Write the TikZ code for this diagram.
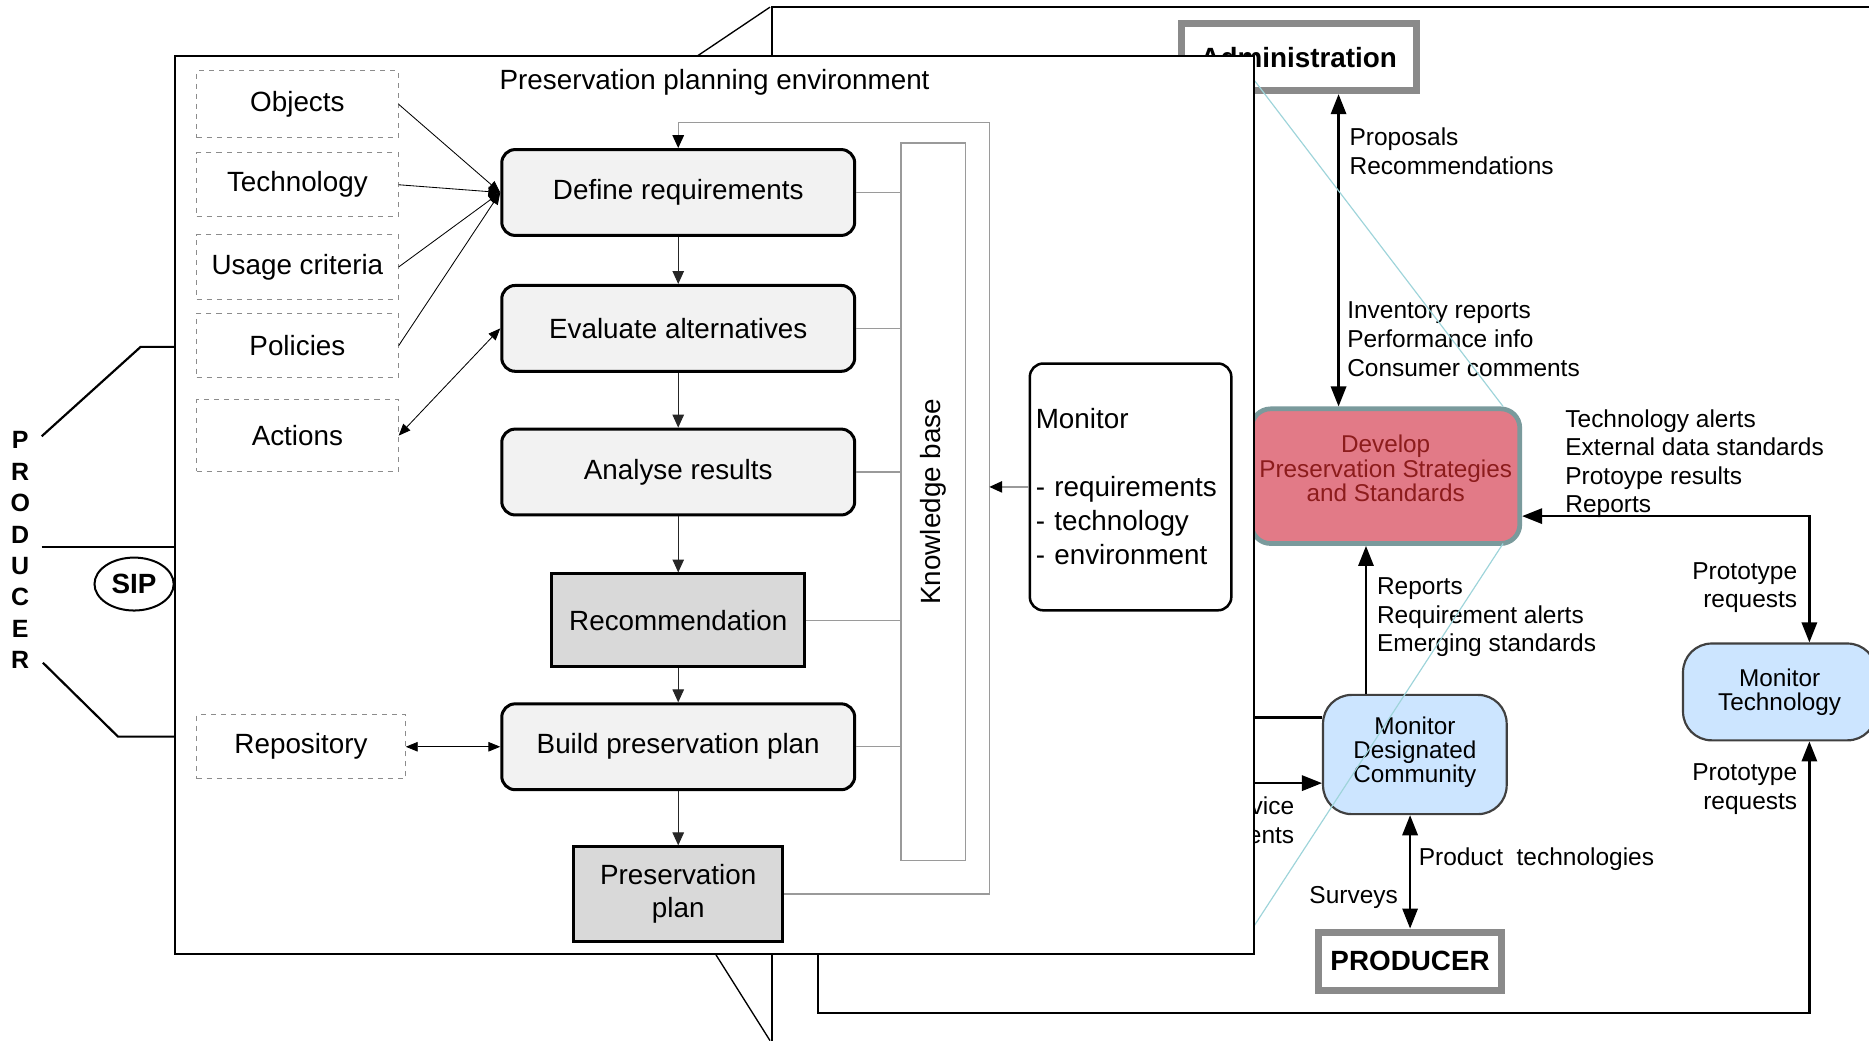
\documentclass[tikz,border=0pt]{standalone}
\usepackage{fontspec}
\setmainfont{Liberation Sans}
\usetikzlibrary{arrows.meta, positioning, shapes.geometric}
\definecolor{cframe}{HTML}{8A8A8A}
\definecolor{cpink}{HTML}{E27A87}
\definecolor{cpinkline}{HTML}{7A9A9C}
\definecolor{cpinktext}{HTML}{8C1C1C}
\definecolor{clblue}{HTML}{CCE5FF}
\definecolor{ccyan}{HTML}{9ED4DA}
\definecolor{cstep}{HTML}{F2F2F2}
\definecolor{cresult}{HTML}{D9D9D9}
\definecolor{cgrey}{HTML}{9A9A9A}
\definecolor{cdash}{HTML}{8C8C8C}
\tikzset{
  every picture/.style={x=0.025cm, y=-0.025cm},
  bigtext/.style={font=\fontsize{16.6}{20}\selectfont},
  smalltext/.style={font=\fontsize{14.6}{17.1}\selectfont},
  stepbox/.style={draw, fill=cstep, rounded corners=8pt, line width=1.8pt, minimum width=7.4cm, minimum height=1.8cm, bigtext},
  resultbox/.style={draw, fill=cresult, line width=1.8pt, align=center, bigtext},
  inbox/.style={draw=cdash, dashed, line width=0.6pt, minimum width=4.225cm, minimum height=1.35cm, bigtext},
  kbline/.style={draw=cgrey, line width=0.8pt},
  flow/.style={-{Triangle[length=0.27cm, width=0.24cm]}, draw=black!85, line width=0.6pt},
  feed/.style={kbline, -{Triangle[length=0.27cm, width=0.24cm, color=black]}},
  inarrow/.style={-{Triangle[length=0.25cm, width=0.2cm]}, line width=0.5pt},
  inboth/.style={{Triangle[length=0.25cm, width=0.2cm]}-{Triangle[length=0.25cm, width=0.2cm]}, line width=0.5pt},
  entitybox/.style={draw=cframe, line width=4.2pt, fill=white, font=\fontsize{16.6}{20}\selectfont\bfseries},
  bubble/.style={draw=black!75, fill=clblue, rounded corners=0.6cm, line width=1.3pt, align=center, font=\fontsize{14.5}{14.2}\selectfont},
  bigarrow/.style={-{Triangle[length=0.42cm, width=0.32cm]}, line width=1.4pt},
  bigboth/.style={{Triangle[length=0.42cm, width=0.32cm]}-{Triangle[length=0.42cm, width=0.32cm]}, line width=1.4pt},
  lab/.style={smalltext, align=left, inner sep=0pt},
  zoomline/.style={draw=ccyan, line width=0.7pt},
  oais/.style={line width=1.3pt},
}
\begin{document}
\begin{tikzpicture}
  \useasboundingbox (0,0) rectangle (1568,873);
  % functional entity behind
  \draw[line width=1.2pt] (1568,6) -- (648,6) -- (648,873);
  \draw[line width=0.8pt] (585,47) -- (646,6);
  \draw[line width=0.8pt] (600,800) -- (646,873);
  \node[entitybox, minimum width=4.925cm, minimum height=1.4cm] (admin) at (1089.5,48) {Administration};
  \node[draw=cpinkline, fill=cpink, text=cpinktext, line width=2.8pt, rounded corners=0.4cm, minimum width=5.625cm, minimum height=2.825cm, align=center, inner xsep=1pt, font=\fontsize{14.5}{14.4}\selectfont] (dev) at (1162.5,399.5) {Develop\\Preservation Strategies\\and Standards\\[-5pt]\mbox{}};
  \node[bubble, minimum width=3.85cm, minimum height=2.5cm] (mdc) at (1187,633) {Monitor\\Designated\\Community\\[-8.5pt]\mbox{}};
  \node[bubble, minimum width=4.05cm, minimum height=2.03cm] (mtech) at (1493,580.5) {Monitor\\Technology};
  \node[entitybox, minimum width=3.85cm, minimum height=1.225cm] (prod) at (1183,806.5) {PRODUCER};
  \coordinate (foot) at (686,790);
  \coordinate (inA) at (1040,602);
  \coordinate (inB) at (1040,657);
  \draw[bigboth] (1123,0 |- admin.south) -- (1123,0 |- dev.north);
  \draw[bigarrow] (1146,0 |- mdc.north) -- (1146,0 |- dev.south);
  \draw[bigboth] (dev.east |- 0,433) -- (1518,433) -- (1518,0 |- mtech.north);
  \draw[bigboth] (1183,0 |- mdc.south) -- (1183,0 |- prod.north);
  \draw[bigarrow] (foot) -- (686,850) -| (1518,0 |- mtech.south);
  \draw[line width=1.4pt] (inA) -- (mdc.west |- inA);
  \draw[bigarrow] (inB) -- (mdc.west |- inB);
  \node[lab, anchor=west] (proplab) at (1132,127) {Proposals\\Recommendations};
  \node[lab, anchor=west] (invlab) at (1130,284.5) {Inventory reports\\Performance info\\Consumer comments};
  \node[lab, anchor=west] (alertlab) at (1313,389) {Technology alerts\\External data standards\\Protoype results\\Reports};
  \node[lab, anchor=east, align=right] (protolab) at (1508,493) {Prototype\\requests};
  \node[lab, anchor=east, align=right] (protolabb) at (1508,662) {Prototype\\requests};
  \node[lab, anchor=west] (replab) at (1155,518) {Reports\\Requirement alerts\\Emerging standards};
  \node[lab, anchor=west] (techlab) at (1190,720.5) {Product\ \ technologies};
  \node[lab, anchor=east] (surveylab) at (1173,753) {Surveys};
  \node[lab, anchor=east, align=right] (reqlab) at (1086,688) {vice\\ents};
  \coordinate (zt) at (1052,67);
  \coordinate (dt) at (1261,341);
  \coordinate (db) at (1261,456);
  \coordinate (zb) at (1052,777);
  \draw[zoomline] (zt) -- (dt);
  \draw[zoomline] (db) -- (zb);
  % planning environment in front
  \node[draw, fill=white, line width=1.2pt, minimum width=22.625cm, minimum height=18.825cm] (env) at (599.5,423.5) {};
  \node[bigtext] (envtitle) at (599.5,69) {Preservation planning environment};
  \node[inbox, minimum height=1.4cm] (obj) at (249.5,87.5) {Objects};
  \node[inbox] (tech) at (249.5,155) {Technology};
  \node[inbox] (usage) at (249.5,224) {Usage criteria};
  \node[inbox] (pol) at (249.5,290) {Policies};
  \node[inbox, minimum height=1.5cm] (act) at (249.5,365.5) {Actions};
  \node[inbox, minimum width=4.375cm] (repo) at (252.5,626.5) {Repository};
  \node[stepbox] (def) at (569,161.5) {Define requirements};
  \node[stepbox] (eva) at (569,275.5) {Evaluate alternatives};
  \node[stepbox] (ana) at (569,396) {Analyse results};
  \node[resultbox, minimum width=5.3cm, minimum height=1.95cm] (rec) at (569,520.5) {Recommendation};
  \node[stepbox] (build) at (569,626.5) {Build preservation plan};
  \node[resultbox, minimum width=4.375cm, minimum height=1.975cm] (plan) at (569,750) {Preservation\\plan};
  \node[draw=cgrey, line width=0.8pt, rotate=90, minimum width=15.05cm, minimum height=1.35cm, bigtext] (kb) at (783,421) {Knowledge base};
  \node[draw, line width=1.5pt, rounded corners=8pt, fill=white, minimum width=4.225cm, minimum height=5.175cm, text width=3.975cm, align=left, inner xsep=0.125cm, font=\fontsize{16.6}{20.3}\selectfont] (mon) at (948.5,408.5) {Monitor\\[20.3pt]- requirements\\- technology\\- environment};
  \foreach \src in {obj,tech,usage,pol} \draw[inarrow] (\src.east) -- (def.west);
  \draw[inboth] (act.east) -- (eva.west);
  \draw[inboth] (repo.east) -- (build.west);
  \draw[flow] (def) -- (eva);
  \draw[flow] (eva) -- (ana);
  \draw[flow] (ana) -- (rec);
  \draw[flow] (rec) -- (build);
  \draw[flow] (build) -- (plan);
  \foreach \n in {def,eva,ana,rec,build} \draw[kbline] (\n.east) -- (\n.east -| kb.north);
  \coordinate (loop) at (830,103);
  \draw[feed] (plan.east) -| (loop) -| (def.north);
  \draw[feed] (mon.west) -- (mon.west -| loop);
  % producer side
  \draw[oais] (35,366) -- (118,291) -- (env.west |- 0,291);
  \draw[oais] (35,459) -- (env.west |- 0,459);
  \draw[oais] (36,556) -- (99,618) -- (env.west |- 0,618);
  \node[draw, ellipse, line width=1.2pt, minimum width=1.625cm, minimum height=1.11cm, font=\fontsize{16.6}{20}\selectfont\bfseries] (sip) at (112.5,490) {SIP};
  \node[align=center, font=\fontsize{14.9}{18.7}\selectfont\bfseries] (producer) at (17,461.5) {P\\R\\O\\D\\U\\C\\E\\R};
\end{tikzpicture}
\end{document}
